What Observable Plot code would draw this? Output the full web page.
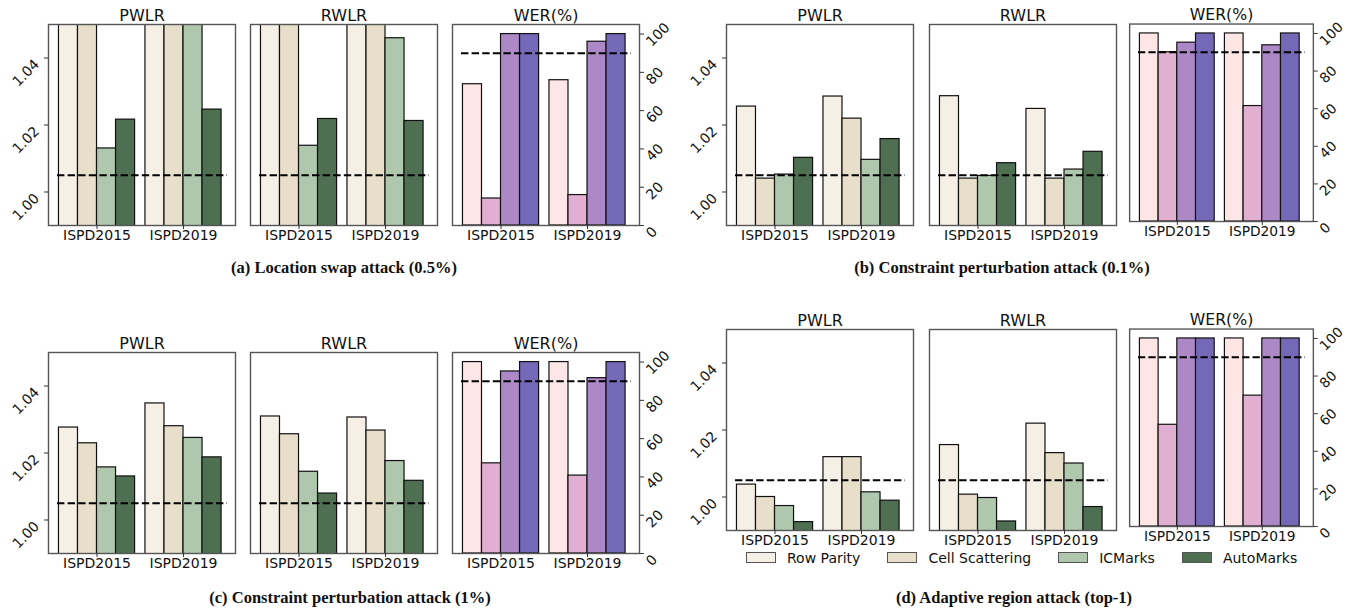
<!DOCTYPE html>
<html>
<head>
<meta charset="utf-8">
<script src="https://cdn.jsdelivr.net/npm/d3@7"></script>
<script src="https://cdn.jsdelivr.net/npm/@observablehq/plot@0.6"></script>
<style>
  body { margin: 0; background: #fff; }
  #root { position: relative; width: 1362px; height: 611px; overflow: hidden; background: #fff; font-family: "DejaVu Sans", sans-serif; }
  .panel { position: absolute; }
  .caption { position: absolute; transform: translateX(-50%); white-space: nowrap; font-family: "Liberation Serif", serif; font-weight: bold; font-size: 16.5px; line-height: 1; color: #111; }
  .legend { position: absolute; display: flex; align-items: center; font-family: "DejaVu Sans", sans-serif; font-size: 14px; color: #111; height: 14px; }
  .legend .item { display: flex; align-items: center; margin-right: 27px; }
  .legend .sw { width: 30px; height: 11px; box-sizing: border-box; border: 1px solid #555; margin-right: 11px; }
</style>
</head>
<body>
<div id="root"></div>
<script>
// ---------- data ----------
const methods = ["Row Parity", "Cell Scattering", "ICMarks", "AutoMarks"];
const datasets = ["ISPD2015", "ISPD2019"];
const metrics = ["PWLR", "RWLR", "WER(%)"];
const greenColors = ["#f5efe6", "#e8dfca", "#afc8ad", "#4f6f52"];
const purpleColors = ["#ffe6e6", "#e1afd1", "#ad88c6", "#7469b6"];
const lrTicks = [1.00, 1.02, 1.04];
const werTicks = [0, 20, 40, 60, 80, 100];
const lrThreshold = 1.005;
const werThreshold = 90;
const captions = [
  "(a) Location swap attack (0.5%)",
  "(b) Constraint perturbation attack (0.1%)",
  "(c) Constraint perturbation attack (1%)",
  "(d) Adaptive region attack (top-1)"
];
// values: ISPD2015 [RP, CS, IC, Auto], then ISPD2019 [RP, CS, IC, Auto]
const aPWLR = [1.06, 1.06, 1.013, 1.0216, 1.06, 1.06, 1.06, 1.0246];
const aRWLR = [1.06, 1.06, 1.0138, 1.0218, 1.06, 1.06, 1.0459, 1.0212];
const aWER  = [73.8, 14.1, 100, 100, 75.9, 15.9, 96.0, 100];
const bPWLR = [1.0255, 1.0040, 1.0052, 1.0102, 1.0285, 1.0219, 1.0096, 1.0158];
const bRWLR = [1.0286, 1.0040, 1.0048, 1.0086, 1.0248, 1.0040, 1.0067, 1.0120];
const bWER  = [100, 90.0, 95.1, 100, 100, 61.4, 93.7, 100];
const cPWLR = [1.0276, 1.0229, 1.0157, 1.0130, 1.0348, 1.0280, 1.0245, 1.0187];
const cRWLR = [1.0309, 1.0256, 1.0144, 1.0079, 1.0306, 1.0267, 1.0176, 1.0117];
const cWER  = [100, 47.1, 95.1, 100, 100, 40.7, 91.6, 100];
const dPWLR = [1.0037, 1.0000, 0.9973, 0.9925, 1.0119, 1.0119, 1.0014, 0.9989];
const dRWLR = [1.0155, 1.0007, 0.9997, 0.9927, 1.0219, 1.0131, 1.0100, 0.9970];
const dWER  = [100, 54.1, 100, 100, 100, 69.6, 100, 100];

// ---------- layout ----------
const W = 187, H = 201, mL = 50, mR = 50, mT = 26, mB = 26;
const barW = 0.22; // bar width in group units (4 bars per group)
const subfigs = [
  {vals: [aPWLR, aRWLR, aWER], xs: [48, 250, 452], y: 24, cap: [344, 260]},
  {vals: [bPWLR, bRWLR, bWER], xs: [726, 929, 1130], y: 24, cap: [1002, 260]},
  {vals: [cPWLR, cRWLR, cWER], xs: [48, 250, 452], y: 352, cap: [350, 590]},
  {vals: [dPWLR, dRWLR, dWER], xs: [726, 929, 1130], y: 329, cap: [1014, 590]}
];

function panel(values, metric) {
  const isWER = metric === "WER(%)";
  const data = values.map((v, i) => ({gi: Math.floor(i / 4), mi: i % 4, method: methods[i % 4], value: v}));
  const thr = isWER ? werThreshold : lrThreshold;
  const axisMarks = [];
  if (isWER) {
    axisMarks.push(Plot.axisY({anchor: "right", ticks: werTicks, tickSize: 4, tickFormat: () => "", stroke: "#333", label: null}));
    axisMarks.push(Plot.text(werTicks, {y: d => d, text: d => String(d), frameAnchor: "right", textAnchor: "start", rotate: -45, dx: 9, dy: 10, fontSize: 14, fill: "#111"}));
  } else if (metric === "PWLR") {
    axisMarks.push(Plot.axisY({anchor: "left", ticks: lrTicks, tickSize: 4, tickFormat: () => "", stroke: "#333", label: null}));
    axisMarks.push(Plot.text(lrTicks, {y: d => d, text: d => d3.format(".2f")(d), frameAnchor: "left", textAnchor: "end", rotate: -45, dx: -11.5, dy: 4, fontSize: 14, fill: "#111"}));
  }
  return Plot.plot({
    width: W + mL + mR,
    height: H + mT + mB,
    marginLeft: mL, marginRight: mR, marginTop: mT, marginBottom: mB,
    style: {background: "transparent", overflow: "visible", fontFamily: "DejaVu Sans", fontSize: "14px", color: "#111"},
    x: {type: "linear", domain: [-0.561, 1.601], axis: null},
    y: isWER ? {domain: [0, 105], axis: null} : {domain: [0.99, 1.05], axis: null},
    color: {domain: methods, range: isWER ? purpleColors : greenColors},
    marks: [
      Plot.rectY(data, {
        x1: d => d.gi + (d.mi - 2) * barW,
        x2: d => d.gi + (d.mi - 1) * barW,
        y1: d => 0,
        y2: "value",
        fill: "method",
        stroke: "#111",
        strokeWidth: 1.2,
        clip: true
      }),
      Plot.ruleY([thr], {stroke: "#000", strokeWidth: 2, strokeDasharray: "7.4,3.2", insetLeft: 9, insetRight: 8}),
      Plot.frame({stroke: "#555", strokeWidth: 1.4}),
      Plot.text([metric], {frameAnchor: "top", dy: -4, lineAnchor: "bottom", fontSize: 16, fill: "#111"}),
      Plot.axisX({anchor: "bottom", ticks: [0, 1], tickFormat: i => datasets[i], tickSize: 4, tickPadding: 1, fontSize: 14, stroke: "#333", label: null}),
      ...axisMarks
    ]
  });
}

const root = document.getElementById("root");
subfigs.forEach((sf, si) => {
  metrics.forEach((m, mi) => {
    const wrap = document.createElement("div");
    wrap.className = "panel";
    wrap.style.left = (sf.xs[mi] - mL) + "px";
    wrap.style.top = (sf.y - mT) + "px";
    wrap.appendChild(panel(sf.vals[mi], m));
    root.appendChild(wrap);
  });
  const cap = document.createElement("div");
  cap.className = "caption";
  cap.textContent = captions[si];
  cap.style.left = sf.cap[0] + "px";
  cap.style.top = sf.cap[1] + "px";
  root.appendChild(cap);
});

// legend (below subfigure d)
const legend = document.createElement("div");
legend.className = "legend";
legend.style.left = "746px";
legend.style.top = "550.5px";
methods.forEach((m, i) => {
  const item = document.createElement("span");
  item.className = "item";
  const sw = document.createElement("span");
  sw.className = "sw";
  sw.style.background = greenColors[i];
  const t = document.createElement("span");
  t.textContent = m;
  item.appendChild(sw);
  item.appendChild(t);
  legend.appendChild(item);
});
root.appendChild(legend);
</script>
</body>
</html>
